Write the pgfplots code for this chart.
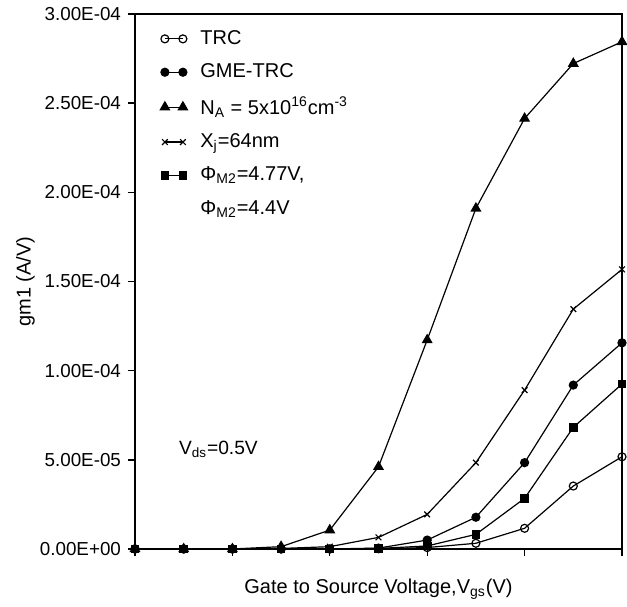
\documentclass[border=0pt]{standalone}
\usepackage{fontspec}
\setmainfont{Liberation Sans}
\usepackage{pgfplots}
\pgfplotsset{compat=1.18}
\usetikzlibrary{calc}

\begin{document}
\begin{tikzpicture}
\begin{axis}[
  name=ax,
  scale only axis,
  width=243.5pt, height=267.5pt,
  xmin=0, xmax=10, ymin=0, ymax=3e-4,
  clip=false,
  axis line style={line width=0.9pt},
  xtick={0,2,...,10}, xticklabels={},
  ytick={0,0.5e-4,1e-4,1.5e-4,2e-4,2.5e-4,3e-4},
  yticklabels={0.00E+00,5.00E-05,1.00E-04,1.50E-04,2.00E-04,2.50E-04,3.00E-04},
  scaled y ticks=false,
  xtick pos=bottom, ytick pos=left,
  tick align=outside, major tick length=3.5pt,
  tick style={line width=0.7pt, black},
  ticklabel style={font=\fontsize{9.4}{10}\selectfont},
  label style={font=\fontsize{9}{10}\selectfont},
  xlabel={Gate to Source Voltage,V\textsubscript{gs}(V)},
  ylabel={gm1 (A/V)},
  every axis x label/.style={at={(axis description cs:0.5,0)}, anchor=center, yshift=-20pt},
  every axis y label/.style={at={(axis description cs:-0.225,0.5)}, rotate=90, anchor=center},
  every axis plot/.append style={black, line width=0.6pt},
  legend image code/.code={\draw plot coordinates {(0pt,0pt) (9pt,0pt)};},
  legend cell align=left,
  legend style={draw=none, fill=none, at={(rel axis cs:0,1)}, anchor=north west,
    xshift=9.5pt, yshift=-4pt, font=\fontsize{10}{11}\selectfont,
    row sep=4.2pt, /tikz/every odd column/.append style={column sep=4.5pt}},
]
\addplot[mark=o, mark size=2pt, mark options={fill=white}] coordinates {
  (0,0) (1,0) (2,0) (3,0) (4,0) (5,0.1e-6) (6,0.8e-6) (7,3.2e-6) (8,11.6e-6) (9,35.3e-6) (10,51.7e-6)
};
\addlegendentry{TRC}
\addplot[mark=*, mark size=2pt] coordinates {
  (0,0) (1,0) (2,0) (3,0) (4,0) (5,0.5e-6) (6,5.0e-6) (7,17.8e-6) (8,48.4e-6) (9,91.9e-6) (10,115.6e-6)
};
\addlegendentry{GME-TRC}
\addplot[mark=triangle*, mark size=2.6pt] coordinates {
  (0,0) (1,0) (2,0) (3,1.3e-6) (4,10.6e-6) (5,46.1e-6) (6,117.2e-6) (7,191.0e-6) (8,241.4e-6) (9,272.2e-6) (10,284.4e-6)
};
\addlegendentry{N\textsubscript{A} = 5x10\textsuperscript{16}cm\textsuperscript{-3}}
\addplot[mark=x, mark size=2pt] coordinates {
  (0,0) (1,0) (2,0) (3,0.3e-6) (4,1.3e-6) (5,6.5e-6) (6,19.4e-6) (7,48.4e-6) (8,89.1e-6) (9,134.5e-6) (10,156.8e-6)
};
\addlegendentry{X\textsubscript{j}=64nm}
\addplot[mark=square*, mark size=1.9pt] coordinates {
  (0,0) (1,0) (2,0) (3,0) (4,0) (5,0.3e-6) (6,1.7e-6) (7,8.2e-6) (8,28.4e-6) (9,68.2e-6) (10,92.5e-6)
};
\addlegendentry{Φ\textsubscript{M2}=4.77V,}
\addlegendimage{empty legend}
\addlegendentry{Φ\textsubscript{M2}=4.4V}
\node[anchor=west, font=\fontsize{9.6}{11}\selectfont] at (axis cs:0.76,5.6e-5) {V\textsubscript{ds}=0.5V};
\end{axis}
\pgfresetboundingbox
\path[use as bounding box] ($(ax.south west)+(-67.5pt,-29pt)$) rectangle ($(ax.north east)+(2.5pt,7pt)$);
\end{tikzpicture}
\end{document}
